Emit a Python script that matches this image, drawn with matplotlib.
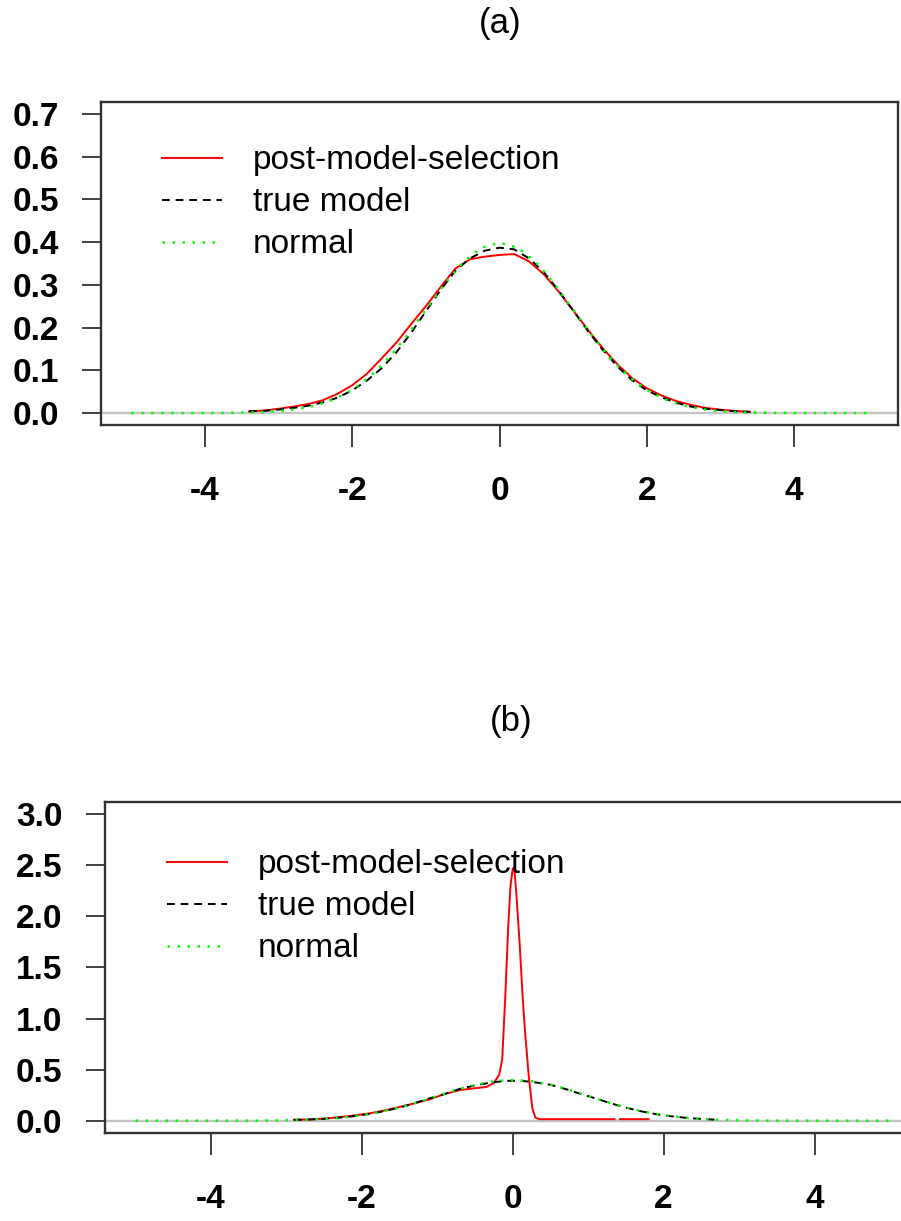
import numpy as np
import matplotlib
matplotlib.use("Agg")
import matplotlib.pyplot as plt

plt.rcParams['font.family'] = ['Liberation Sans', 'DejaVu Sans']
plt.rcParams['axes.unicode_minus'] = False

labels = ["post-model-selection", "true model", "normal"]
xticks = [-4, -2, 0, 2, 4]

# normal reference curve (both panels)
x_norm = [-5.0, -4.75, -4.5, -4.25, -4.0, -3.75, -3.5, -3.25, -3.0, -2.75, -2.5, -2.25,
          -2.0, -1.75, -1.5, -1.25, -1.0, -0.75, -0.5, -0.25, 0.0, 0.25, 0.5, 0.75,
          1.0, 1.25, 1.5, 1.75, 2.0, 2.25, 2.5, 2.75, 3.0, 3.25, 3.5, 3.75, 4.0,
          4.25, 4.5, 4.75, 5.0]
y_norm = [0.0, 0.0, 0.0, 0.0, 0.0001, 0.0004, 0.0009, 0.002, 0.0044, 0.0091, 0.0175, 0.0317,
          0.054, 0.0863, 0.1295, 0.1826, 0.242, 0.3011, 0.3521, 0.3867, 0.3989, 0.3867, 0.3521, 0.3011,
          0.242, 0.1826, 0.1295, 0.0863, 0.054, 0.0317, 0.0175, 0.0091, 0.0044, 0.002, 0.0009, 0.0004, 0.0001,
          0.0, 0.0, 0.0, 0.0]

# panel (a)
x_a = [-3.4, -3.2, -3.0, -2.8, -2.6, -2.4, -2.2, -2.0, -1.8, -1.6, -1.4, -1.2, -1.0, -0.8,
       -0.6, -0.4, -0.2, 0.0, 0.2, 0.4, 0.6, 0.8, 1.0, 1.2, 1.4, 1.6, 1.8, 2.0, 2.2, 2.4,
       2.6, 2.8, 3.0, 3.2, 3.4]
pms_a = [0.004, 0.006, 0.010, 0.015, 0.021, 0.030, 0.045, 0.065, 0.092, 0.128, 0.165, 0.208,
         0.250, 0.295, 0.338, 0.360, 0.366, 0.370, 0.372, 0.355, 0.325, 0.285, 0.240, 0.195,
         0.152, 0.114, 0.082, 0.058, 0.041, 0.028, 0.019, 0.012, 0.008, 0.005, 0.003]
true_a = [0.004, 0.005, 0.008, 0.012, 0.017, 0.025, 0.036, 0.053, 0.076, 0.105, 0.142, 0.188,
          0.238, 0.288, 0.333, 0.362, 0.380, 0.387, 0.383, 0.362, 0.330, 0.287, 0.240, 0.192,
          0.148, 0.109, 0.077, 0.053, 0.037, 0.024, 0.015, 0.010, 0.007, 0.004, 0.003]

# panel (b)
x_b_pms = [-2.9, -2.7, -2.5, -2.3, -2.1, -1.9, -1.7, -1.5, -1.3, -1.1, -0.9, -0.7, -0.5,
           -0.35, -0.25, -0.18, -0.14, -0.10, -0.06, -0.03, 0.0, 0.02, 0.045, 0.09, 0.13,
           0.16, 0.21, 0.26, 0.30, 0.35, 0.6, 1.0, 1.35, 1.38, 1.42, 1.8]
pms_b = [0.010, 0.012, 0.020, 0.035, 0.052, 0.072, 0.100, 0.135, 0.170, 0.210, 0.262, 0.300,
         0.318, 0.330, 0.370, 0.45, 0.60, 1.20, 1.90, 2.30, 2.47, 2.47, 2.25, 1.75, 1.22,
         0.90, 0.45, 0.12, 0.03, 0.015, 0.015, 0.015, 0.015, np.nan, 0.015, 0.015]
x_b_true = [-2.9, -2.7, -2.5, -2.3, -2.1, -1.9, -1.7, -1.5, -1.3, -1.1, -0.9, -0.7, -0.5,
            -0.3, -0.1, 0.1, 0.3, 0.5, 0.7, 0.9, 1.1, 1.3, 1.5, 1.7, 1.9, 2.1, 2.3, 2.5, 2.7]
true_b = [0.008, 0.012, 0.019, 0.030, 0.045, 0.066, 0.095, 0.128, 0.172, 0.220, 0.262, 0.312,
          0.345, 0.372, 0.390, 0.392, 0.375, 0.352, 0.310, 0.262, 0.218, 0.170, 0.128, 0.092,
          0.064, 0.043, 0.028, 0.017, 0.010]

fig = plt.figure(figsize=(9.01, 12.21), dpi=100)
ax_a = fig.add_axes([0.1121, 0.6519, 0.8846, 0.2646])
ax_b = fig.add_axes([0.1161, 0.0721, 0.906, 0.2711])

panels = [
    (ax_a, x_a, pms_a, x_a, true_a, (-0.028, 0.728), np.arange(0, 0.71, 0.1), 0.866),
    (ax_b, x_b_pms, pms_b, x_b_true, true_b, (-0.12, 3.12), np.arange(0, 3.01, 0.5), 0.857),
]

for ax, xp, yp, xt, yt, ylim, yticks, leg_y in panels:
    ax.axhline(0, color='#c4c4c4', lw=1.7, zorder=1)
    l1, = ax.plot(xp, yp, color='#ff0000', lw=1.4, zorder=2)
    l2, = ax.plot(xt, yt, color='black', lw=1.4, linestyle=(0, (4, 3)), zorder=3)
    l3, = ax.plot(x_norm, y_norm, color='#00ff00', lw=1.8, linestyle=(0, (1, 3)), zorder=4)
    ax.set_xlim(-5.41, 5.41)
    ax.set_ylim(*ylim)
    ax.set_xticks(xticks)
    ax.set_yticks(yticks)
    ax.set_yticklabels(["%.1f" % v for v in yticks])
    for s in ax.spines.values():
        s.set_color('#333333')
        s.set_linewidth(1.7)
    ax.tick_params(axis='x', direction='out', length=15.5, width=1.3, color='#333333',
                   pad=21, labelsize=24)
    ax.tick_params(axis='y', direction='out', length=13.5, width=1.3, color='#333333',
                   pad=17, labelsize=24)
    for lab in ax.get_xticklabels() + ax.get_yticklabels():
        lab.set_fontweight('bold')
    ax.legend([l1, l2, l3], labels, loc='upper left', bbox_to_anchor=(0.0765, leg_y),
              frameon=False, fontsize=24, borderpad=0, borderaxespad=0,
              handlelength=1.8, handletextpad=0.93, labelspacing=0.33)

fig.text(500 / 901, 1 - 23 / 1221, "(a)", ha='center', va='center', fontsize=25)
fig.text(511 / 901, 1 - 722 / 1221, "(b)", ha='center', va='center', fontsize=25)

fig.savefig("out.png", dpi=100)
